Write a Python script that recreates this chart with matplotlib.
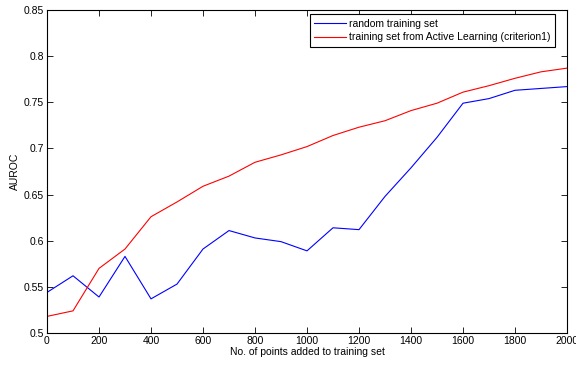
import matplotlib
matplotlib.use("Agg")
import matplotlib.pyplot as plt

# points added to the training set
n_points = [0, 100, 200, 300, 400, 500, 600, 700, 800, 900, 1000,
            1100, 1200, 1300, 1400, 1500, 1600, 1700, 1800, 1900, 2000]

# AUROC, random training set
auroc_random = [0.544, 0.562, 0.539, 0.583, 0.537, 0.553, 0.591, 0.611, 0.603, 0.599, 0.589,
                0.614, 0.612, 0.648, 0.679, 0.712, 0.749, 0.754, 0.763, 0.765, 0.767]

# AUROC, training set from active learning (criterion1)
auroc_active = [0.518, 0.524, 0.570, 0.591, 0.626, 0.642, 0.659, 0.670, 0.685, 0.693, 0.702,
                0.714, 0.723, 0.730, 0.741, 0.749, 0.761, 0.768, 0.776, 0.783, 0.787]

plt.rcParams["font.family"] = ["Liberation Sans", "DejaVu Sans"]
plt.rcParams["font.size"] = 7.5

fig = plt.figure(figsize=(5.76, 3.65), dpi=100)
ax = fig.add_axes([47 / 576, 32 / 365, 520 / 576, 323 / 365])

ax.plot(n_points, auroc_random, color="blue", lw=0.8, label="random training set")
ax.plot(n_points, auroc_active, color="red", lw=0.8,
        label="training set from Active Learning (criterion1)")

ax.set_xlim(0, 2000)
ax.set_ylim(0.5, 0.85)
ax.set_xticks(range(0, 2001, 200))
ax.set_yticks([0.5, 0.55, 0.6, 0.65, 0.7, 0.75, 0.8, 0.85])
ax.set_yticklabels(["0.5", "0.55", "0.6", "0.65", "0.7", "0.75", "0.8", "0.85"])
ax.tick_params(direction="in", top=True, right=True, length=4, width=0.6, pad=2)
for s in ax.spines.values():
    s.set_linewidth(0.8)

ax.set_xlabel("No. of points added to training set", labelpad=1)
ax.set_ylabel("AUROC", labelpad=3)

leg = ax.legend(loc="upper right", bbox_to_anchor=(0.977, 0.988), fancybox=False,
                framealpha=1, edgecolor="black", borderaxespad=0, handlelength=3.0,
                handletextpad=0.3, labelspacing=0.35, borderpad=0.45)
leg.get_frame().set_linewidth(0.8)

fig.savefig("out.png", dpi=100)
